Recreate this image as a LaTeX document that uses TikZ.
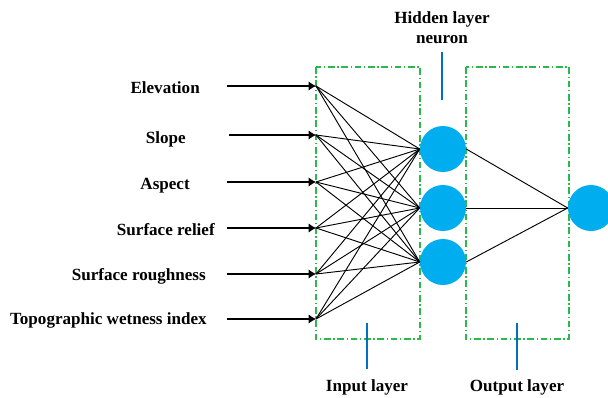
\documentclass[tikz,border=0pt]{standalone}
\usepackage{fontspec}
\setmainfont{Liberation Serif}
\usetikzlibrary{arrows.meta,positioning}
\definecolor{neuronblue}{HTML}{00AEEF}
\definecolor{boxgreen}{HTML}{2DB84E}
\definecolor{tagblue}{HTML}{0070C0}

\begin{document}
\begin{tikzpicture}[x=0.75pt,y=-0.75pt]
    \tikzstyle{neuron}=[circle, fill=neuronblue, minimum size=34.5pt, inner sep=0pt]
    \tikzstyle{connect}=[-{Latex[length=5.5pt,width=7pt]}, line width=0.9pt]
    \tikzstyle{wire}=[line width=0.7pt]
    \tikzstyle{box}=[draw=boxgreen, line width=0.8pt, dash pattern=on 5pt off 2pt on 1pt off 2pt]
    \tikzstyle{tag}=[draw=tagblue, line width=1pt]
    \tikzstyle{txt}=[font=\fontsize{12.8}{15}\selectfont\bfseries, inner sep=0pt]
    \useasboundingbox (0,0) rectangle (608,397);

      % layer boxes
      \draw[box] (316,67) rectangle (420,339);
      \draw[box] (466,67) rectangle (569,339);

      % neurons
      \node[neuron] (h1) at (443,149) {};
      \node[neuron] (h2) at (443,208) {};
      \node[neuron] (h3) at (443,262) {};
      \node[neuron] (out) at (591,208) {};

      % input ends
      \coordinate (in1) at (316,86);
      \coordinate (in2) at (316,135);
      \coordinate (in3) at (316,182);
      \coordinate (in4) at (316,228);
      \coordinate (in5) at (316,274);
      \coordinate (in6) at (316,319);
      \coordinate (s1) at (227,86);
      \coordinate (s2) at (229,135);
      \coordinate (s3) at (227,182);
      \coordinate (s4) at (227,228);
      \coordinate (s5) at (227,274);
      \coordinate (s6) at (227,319);

      \node[txt, anchor=base east] (elev) at (200,93) {Elevation};
      \node[txt, anchor=base east] (slope) at (186,143) {Slope};
      \node[txt, anchor=base east] (aspect) at (190,189) {Aspect};
      \node[txt, anchor=base east] (relief) at (215,235) {Surface relief};
      \node[txt, anchor=base east] (rough) at (206,280) {Surface roughness};
      \node[txt, anchor=base east] (twi) at (207,324) {Topographic wetness index};

      \foreach \i in {1,...,6}
        \path (s\i) edge [connect] (in\i);
      \foreach \i in {1,...,6}
        \foreach \j in {1,2,3}
          \draw[wire] (in\i) -- (h\j.west);
      \foreach \j in {1,2,3}
        \draw[wire] (h\j.east) -- (out.west);

      % layer labels
      \node[txt, anchor=base] (hid) at (442,23) {Hidden layer};
      \node[txt, anchor=base] (neu) at (442,43) {neuron};
      \node[txt, anchor=base] (inl) at (367,391) {Input layer};
      \node[txt, anchor=base] (outl) at (517,391) {Output layer};
      \coordinate (t1a) at (442,52);
      \coordinate (t1b) at (442,100);
      \coordinate (t2a) at (367,323);
      \coordinate (t2b) at (367,369);
      \coordinate (t3a) at (517,323);
      \coordinate (t3b) at (517,370);
      \draw[tag] (t1a) -- (t1b);
      \draw[tag] (t2a) -- (t2b);
      \draw[tag] (t3a) -- (t3b);
\end{tikzpicture}
\end{document}
